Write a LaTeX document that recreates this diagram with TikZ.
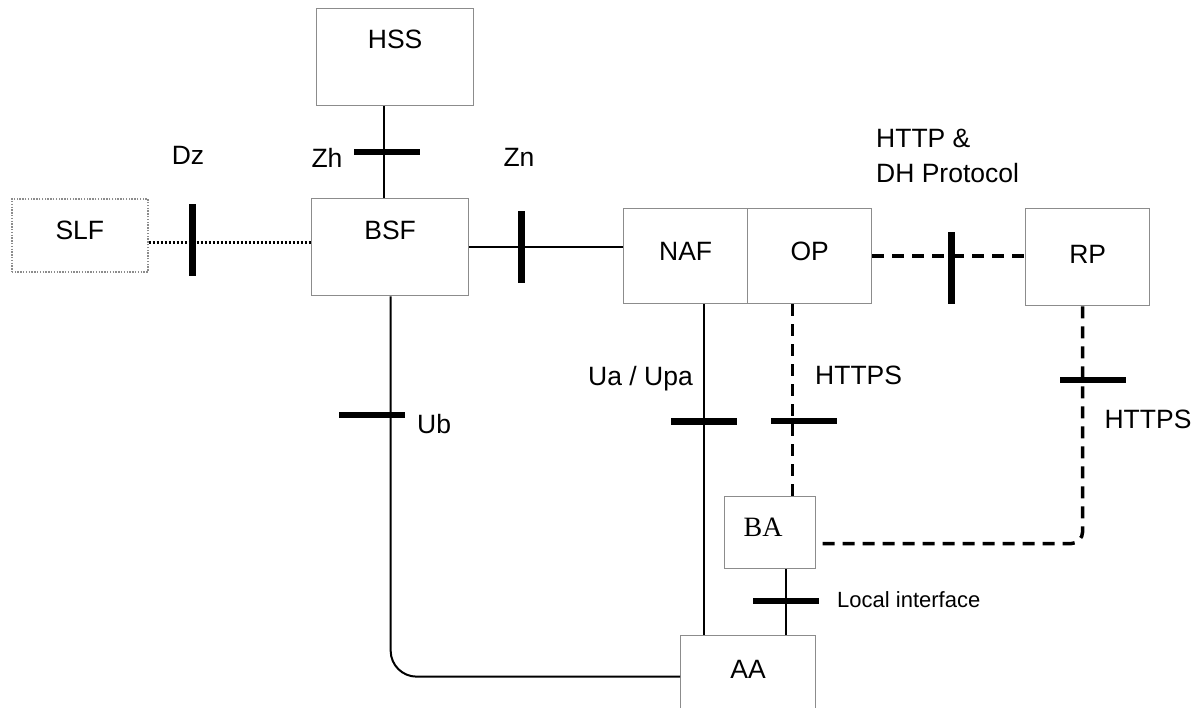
\documentclass[tikz,border=0pt]{standalone}
\usepackage{fontspec}
\setmainfont{Liberation Sans}
\newfontfamily\bafont{Liberation Serif}
\usepackage{tikz}
\usetikzlibrary{positioning,calc}
\definecolor{boxgray}{RGB}{140,140,140}
\tikzset{
  ent/.style={draw=boxgray, line width=1.3pt, inner sep=0pt, anchor=north west,
              font=\fontsize{26.5}{30}\selectfont, text height=19pt, text depth=#1},
  ent/.default=0pt,
  optent/.style={ent=#1, draw=boxgray, line width=1.6pt, dash pattern=on 1.4pt off 1.4pt},
  lbl/.style={font=\fontsize{26.5}{35}\selectfont, inner sep=0pt},
  smalllbl/.style={font=\fontsize{22}{26}\selectfont, inner sep=0pt},
  conn/.style={line width=2pt},
  dashconn/.style={line width=3.5pt, dash pattern=on 12pt off 8pt},
  dotconn/.style={line width=3pt, dash pattern=on 2pt off 2pt},
  hbar/.style={fill=black, sharp corners, inner sep=0pt, minimum width=66pt, minimum height=6.5pt},
  vbar/.style={fill=black, sharp corners, inner sep=0pt, minimum width=6.5pt, minimum height=72pt}
}
\begin{document}
\begin{tikzpicture}[x=1pt, y=-1pt]
\useasboundingbox (0,0) rectangle (1199,707);
\clip (0,0) rectangle (1199,707);
% entities
\node[ent=37pt, minimum width=157pt, minimum height=97pt] (HSS) at (316,8) {HSS};
\node[ent=35pt, minimum width=157pt, minimum height=97pt] (BSF) at (311,198) {BSF};
\node[optent=10pt, minimum width=136pt, minimum height=73pt] (SLF) at (11,198) {SLF};
\node[ent=11pt, minimum width=124pt, minimum height=95pt] (NAF) at (623,208) {NAF};
\node[ent=11pt, minimum width=124pt, minimum height=95pt] (OP) at (747,208) {OP};
\node[ent=7pt, minimum width=124pt, minimum height=97pt] (RP) at (1025,208) {RP};
\node[ent=12pt, minimum width=91pt, minimum height=72pt, font=\bafont\fontsize{28}{30}\selectfont] (BA) at (724,496) {BA\hspace*{14pt}};
\node[ent=34pt, minimum width=135pt, minimum height=100pt] (AA) at (680,635) {AA};
% reference points
\draw[conn] ([xshift=-6.5pt]BSF.north) -- ([xshift=-6.5pt]BSF.north |- HSS.south)
  node[hbar, midway, xshift=3pt] {};
\draw[conn] (BSF.east) -- (BSF.east -| NAF.west)
  node[vbar, pos=0.34] {};
\draw[dotconn] ([yshift=-7pt]SLF.east) -- ([yshift=-7pt]SLF.east -| BSF.west)
  node[vbar, pos=0.27, yshift=2pt] {};
\draw[dashconn] (OP.east) -- (OP.east -| RP.west)
  node[vbar, pos=0.52, yshift=-11.5pt] {};
\draw[conn] ([xshift=18pt]NAF.south) -- ([xshift=18pt]NAF.south |- AA.north)
  node[hbar, pos=0.355] {};
\draw[dashconn] ([xshift=-17pt]OP.south) -- ([xshift=-17pt]OP.south |- BA.north)
  node[hbar, pos=0.61, xshift=11.5pt] {};
\draw[dashconn, rounded corners=12pt] ([xshift=-5pt]RP.south) |- ([yshift=-11pt]BA.east)
  node[hbar, pos=0.155, xshift=10pt] {};
\draw[conn] ([xshift=16pt]BA.south) -- ([xshift=16pt]BA.south |- AA.north)
  node[hbar, pos=0.48] {};
\draw[conn, rounded corners=26pt] ([xshift=0.5pt]BSF.south) |- ([yshift=9pt]AA.west)
  node[hbar, pos=0.156, xshift=-19pt] {};
% labels
\node[lbl] (dz) at (188,155) {Dz};
\node[lbl] (zh) at (327,158) {Zh};
\node[lbl] (zn) at (519,157) {Zn};
\node[lbl, anchor=west, align=left] (dh) at (876,156) {HTTP \&\\DH Protocol};
\node[lbl, anchor=east] (ua) at (693,379) {Ua / Upa};
\node[lbl, anchor=west] (https1) at (815,375) {HTTPS};
\node[lbl] (https2) at (1148,419) {HTTPS};
\node[lbl, anchor=west] (ub) at (417,424) {Ub};
\node[smalllbl, anchor=west] (loc) at (837,600) {Local interface};
\end{tikzpicture}
\end{document}
